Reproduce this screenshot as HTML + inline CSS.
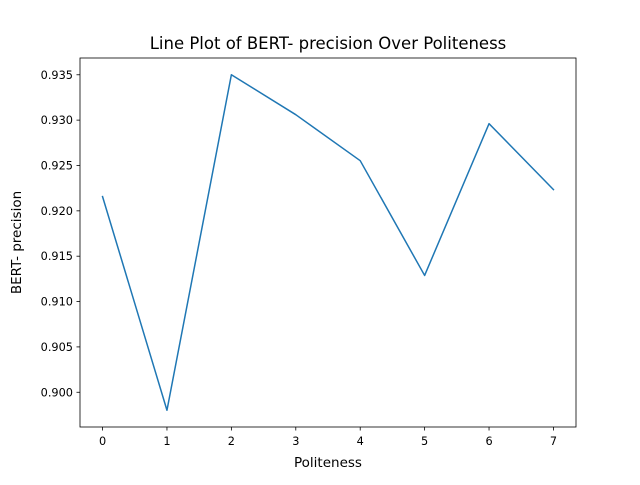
<!DOCTYPE html>
<html><head><meta charset="utf-8"><style>
body{margin:0;background:#fff;}
svg text{font-family:"DejaVu Sans","Liberation Sans",sans-serif;fill:#000;}
</style></head><body>
<svg id="chart" width="640" height="480" xmlns="http://www.w3.org/2000/svg">
<rect width="640" height="480" fill="#fff"/>
<text x="328" y="49" font-size="16.5" text-anchor="middle">Line Plot of BERT- precision Over Politeness</text>
<g id="axes"></g>
<text x="328" y="467" font-size="13.5" text-anchor="middle">Politeness</text>
<text transform="translate(21,242.5) rotate(-90)" font-size="13.5" text-anchor="middle">BERT- precision</text>
</svg>
<script>
const categories=[0,1,2,3,4,5,6,7];
const values=[0.92157,0.89802,0.935,0.9306,0.92553,0.91288,0.92961,0.92234];
const yTicks=[0.900,0.905,0.910,0.915,0.920,0.925,0.930,0.935];
const yTickLabels=["0.900","0.905","0.910","0.915","0.920","0.925","0.930","0.935"];

const L=80,R=576,T=58,B=427;
const xmin0=Math.min(...categories),xmax0=Math.max(...categories);
const xm=(xmax0-xmin0)*0.05;
const xmin=xmin0-xm,xmax=xmax0+xm;
const ymin0=Math.min(...values),ymax0=Math.max(...values);
const ym=(ymax0-ymin0)*0.05;
const ymin=ymin0-ym,ymax=ymax0+ym;
const sx=v=>L+(v-xmin)/(xmax-xmin)*(R-L);
const sy=v=>B-(v-ymin)/(ymax-ymin)*(B-T);
const NS="http://www.w3.org/2000/svg";
const g=document.getElementById('axes');
function mk(tag,attrs){const e=document.createElementNS(NS,tag);for(const k in attrs)e.setAttribute(k,attrs[k]);g.appendChild(e);return e;}

categories.forEach(c=>{
  const x=sx(c);
  const t=mk('line',{x1:x,x2:x,y1:B,y2:B+3.5,stroke:'#000','stroke-width':0.8});
  
  
  const l=mk('text',{x:x,y:B+18,'font-size':11.3,'text-anchor':'middle'});
  l.textContent=String(c);
  
  
});
yTicks.forEach((v,i)=>{
  const y=sy(v);
  const t=mk('line',{x1:L-3.5,x2:L,y1:y,y2:y,stroke:'#000','stroke-width':0.8});
  
  
  const l=mk('text',{x:L-7,y:y+4,'font-size':11.3,'text-anchor':'end'});
  l.textContent=yTickLabels[i];
  
  
});
const pts=categories.map((c,i)=>sx(c).toFixed(2)+','+sy(values[i]).toFixed(2)).join(' ');
const line=mk('polyline',{points:pts,fill:'none',stroke:'#1f77b4','stroke-width':1.5,'stroke-linejoin':'round','stroke-linecap':'square'});


const frame=mk('rect',{x:L,y:T,width:R-L,height:B-T,fill:'none',stroke:'#000','stroke-width':0.8});


</script>
</body></html>
